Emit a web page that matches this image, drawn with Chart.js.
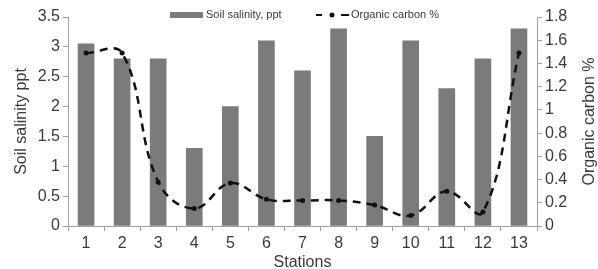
<!DOCTYPE html>
<html>
<head>
<meta charset="utf-8">
<script src="https://cdn.jsdelivr.net/npm/chart.js@4"></script>
<style>
  html, body { margin: 0; padding: 0; background: #fff; }
  #wrap { width: 598px; height: 269px; }
</style>
</head>
<body>
<div id="wrap"><canvas id="chart" width="598" height="269"></canvas></div>
<script>
const stations = ['1', '2', '3', '4', '5', '6', '7', '8', '9', '10', '11', '12', '13']
const salinity = [3.05, 2.8, 2.8, 1.3, 2.0, 3.1, 2.6, 3.3, 1.5, 3.1, 2.3, 2.8, 3.3]
const organicCarbon = [1.49, 1.49, 0.38, 0.15, 0.37, 0.23, 0.22, 0.22, 0.18, 0.09, 0.3, 0.12, 1.49]

const FONT = 'Liberation Sans, Arial, sans-serif'
const axisGray = '#a0a0a0'
const textGray = '#3a3a3a'

const fmt = (v) => String(Math.round(v * 10) / 10)

// legend and right-hand title drawn by hand (title reads bottom-to-top like the left one)
const extras = {
  id: 'extras',
  afterDraw(chart) {
    const { ctx, chartArea } = chart
    const barSet = chart.data.datasets.find((d) => d.type === 'bar')
    const lineSet = chart.data.datasets.find((d) => d.type === 'line')
    ctx.save()
    ctx.font = '11px ' + FONT
    ctx.textBaseline = 'middle'

    const ly = 15
    // bar entry
    ctx.fillStyle = '#7b7b7b'
    ctx.fillRect(170, ly - 3, 33, 6)
    ctx.fillStyle = textGray
    ctx.fillText(barSet.label, 206, ly)

    // line entry
    ctx.strokeStyle = '#111'
    ctx.lineWidth = 2
    ctx.beginPath()
    ctx.moveTo(316, ly); ctx.lineTo(322, ly)
    ctx.moveTo(341, ly); ctx.lineTo(349, ly)
    ctx.stroke()
    ctx.fillStyle = '#111'
    ctx.beginPath()
    ctx.arc(332, ly, 2.5, 0, Math.PI * 2)
    ctx.fill()
    ctx.fillStyle = textGray
    ctx.fillText(lineSet.label, 351, ly)

    // right axis title
    ctx.font = '16px ' + FONT
    ctx.textAlign = 'center'
    ctx.translate(590, (chartArea.top + chartArea.bottom) / 2)
    ctx.rotate(-Math.PI / 2)
    ctx.fillText('Organic carbon %', 0, 0)
    ctx.restore()
  },
}

new Chart(document.getElementById('chart').getContext('2d'), {
  data: {
    labels: stations,
    datasets: [
      {
        type: 'line',
        label: 'Organic carbon %',
        data: organicCarbon,
        yAxisID: 'y2',
        borderColor: '#111',
        borderWidth: 2.5,
        borderDash: [8, 6],
        tension: 0.4,
        pointRadius: 2.5,
        pointBackgroundColor: '#111',
        pointBorderWidth: 0,
        order: 0,
      },
      {
        type: 'bar',
        label: 'Soil salinity, ppt',
        data: salinity,
        yAxisID: 'y',
        backgroundColor: '#7b7b7b',
        barThickness: 16,
        order: 1,
      },
    ],
  },
  options: {
    responsive: false,
    animation: false,
    layout: { padding: { top: 17, right: 0, left: 0, bottom: 0 } },
    plugins: {
      legend: { display: false },
      tooltip: { enabled: false },
    },
    scales: {
      x: {
        offset: true,
        afterFit: (s) => { s.height = 43 },
        grid: { offset: true, drawOnChartArea: false, drawTicks: true, tickLength: 5, color: axisGray },
        border: { color: axisGray },
        ticks: { font: { family: FONT, size: 16 }, color: textGray, padding: 3 },
        title: { display: true, text: 'Stations', font: { family: FONT, size: 16 }, color: textGray, padding: { top: 0, bottom: -3 } },
      },
      y: {
        position: 'left',
        min: 0,
        max: 3.5,
        afterFit: (s) => { s.width = 68 },
        grid: { drawOnChartArea: false, drawTicks: true, tickLength: 5, color: axisGray },
        border: { color: axisGray },
        ticks: { stepSize: 0.5, callback: fmt, font: { family: FONT, size: 16 }, color: textGray, padding: 3 },
        title: { display: true, text: 'Soil salinity ppt', font: { family: FONT, size: 16 }, color: textGray, padding: { top: 12, bottom: 0 } },
      },
      y2: {
        position: 'right',
        min: 0,
        max: 1.8,
        afterFit: (s) => { s.width = 61 },
        grid: { drawOnChartArea: false, drawTicks: true, tickLength: 5, color: axisGray },
        border: { color: axisGray },
        ticks: { stepSize: 0.2, callback: fmt, font: { family: FONT, size: 16 }, color: textGray, padding: 3 },
      },
    },
  },
  plugins: [extras],
})
</script>
</body>
</html>
